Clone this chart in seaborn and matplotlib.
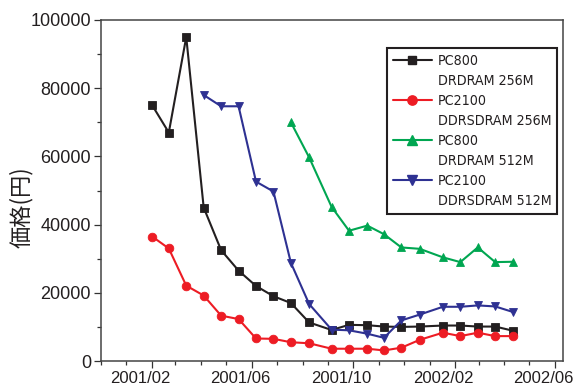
import matplotlib
matplotlib.use("Agg")
import matplotlib.pyplot as plt
import matplotlib.dates as mdates
import matplotlib.transforms as mtransforms
from matplotlib.lines import Line2D
from matplotlib.font_manager import FontProperties, fontManager
import seaborn as sns
import pandas as pd

# ---- data ----
dates_all = ["2001-02-01", "2001-02-21", "2001-03-14", "2001-04-04", "2001-04-25",
             "2001-05-16", "2001-06-06", "2001-06-27", "2001-07-18", "2001-08-09",
             "2001-09-05", "2001-09-26", "2001-10-18", "2001-11-07", "2001-11-28",
             "2001-12-20", "2002-01-17", "2002-02-07", "2002-02-28", "2002-03-21",
             "2002-04-11"]
pc800_256 = [75000, 67000, 95000, 45000, 32500, 26500, 22000, 19000, 17000, 11300,
             9100, 10600, 10500, 10100, 10000, 10100, 10400, 10400, 10100, 10100, 8900]
pc2100_256 = [36500, 33000, 22100, 19200, 13300, 12300, 6600, 6500, 5500, 5200,
              3600, 3600, 3600, 3100, 3900, 6200, 8300, 7300, 8300, 7300, 7300]
dates_pc800_512 = dates_all[8:]
pc800_512 = [70000, 59700, 45200, 38200, 39700, 37200, 33300, 32900, 30400, 29000,
             33300, 29000, 29100]
dates_pc2100_512 = dates_all[3:]
pc2100_512 = [78000, 74700, 74700, 52600, 49700, 28800, 16700, 9200, 9000, 8000,
              6800, 11900, 13600, 15900, 15900, 16300, 16000, 14400]

series_names = ["PC800\nDRDRAM 256M", "PC2100\nDDRSDRAM 256M",
                "PC800\nDRDRAM 512M", "PC2100\nDDRSDRAM 512M"]
yticks = [0, 20000, 40000, 60000, 80000, 100000]
xtick_dates = ["2001-02-01", "2001-06-01", "2001-10-01", "2002-02-01", "2002-06-01"]
xtick_labels = ["2001/02", "2001/06", "2001/10", "2002/02", "2002/06"]
ylabel = "価格(円)"

colors = ["#231f20", "#ed1c24", "#00a651", "#2e3192"]
markers = ["s", "o", "^", "v"]
msizes = [5.5, 6.2, 6.3, 6.3]

sns.set_theme(style="white")
plt.rcParams["font.family"] = ["Liberation Sans", "DejaVu Sans"]


def _is_regular(f):
    w = f.weight
    return (w in (400, "normal", "regular", "book")) and f.style == "normal"


# pick a narrow, regular-weight font for the legend if one is installed
narrow = None
for f in fontManager.ttflist:
    n = f.name.lower()
    is_narrow = ("narrow" in n or "condensed" in n or
                 f.stretch in ("condensed", "semi-condensed", "extra-condensed"))
    if is_narrow and _is_regular(f):
        narrow = f
        break
if narrow is not None:
    leg_fam = FontProperties(fname=narrow.fname)
else:
    leg_fam = FontProperties(family="Liberation Sans")

fig = plt.figure(figsize=(5.74, 3.91), dpi=100)
ax = fig.add_axes([100.7 / 574, 1 - 361 / 391, 462.6 / 574, 341 / 391])

frames = [
    pd.DataFrame({"date": pd.to_datetime(dates_all), "price": pc800_256}),
    pd.DataFrame({"date": pd.to_datetime(dates_all), "price": pc2100_256}),
    pd.DataFrame({"date": pd.to_datetime(dates_pc800_512), "price": pc800_512}),
    pd.DataFrame({"date": pd.to_datetime(dates_pc2100_512), "price": pc2100_512}),
]

for df, c, m, ms in zip(frames, colors, markers, msizes):
    sns.lineplot(data=df, x="date", y="price", ax=ax, color=c, marker=m,
                 markersize=ms, markeredgewidth=0.6, markeredgecolor=c,
                 linewidth=1.5, legend=False, sort=False)

ax.set_xlim(pd.Timestamp("2000-12-01"), pd.Timestamp("2002-06-11"))
ax.set_ylim(0, 100000)
ax.set_yticks(yticks)
ax.set_yticklabels([str(v) for v in yticks])
ax.set_xticks(pd.to_datetime(xtick_dates))
ax.set_xticklabels(xtick_labels)
ax.xaxis.set_minor_locator(mdates.MonthLocator())
ax.yaxis.set_minor_locator(matplotlib.ticker.MultipleLocator(10000))
ax.tick_params(which="major", direction="out", length=5, width=0.9,
               color="#333333", labelcolor="#231f20",
               bottom=True, left=True, pad=2)
ax.tick_params(axis="x", which="major", labelsize=12)
ax.tick_params(axis="y", which="major", labelsize=13)
ax.tick_params(which="minor", direction="out", length=3, width=0.9,
               color="#333333", bottom=True, left=True)
# x labels sit slightly left of their ticks in the reference
shift = mtransforms.ScaledTranslation(-12 / 100, 0, fig.dpi_scale_trans)
for lab in ax.get_xticklabels():
    lab.set_transform(lab.get_transform() + shift)
for s in ax.spines.values():
    s.set_color("#444444")
    s.set_linewidth(1.1)
ax.set_xlabel("")
ax.set_ylabel(ylabel, fontsize=16, family=["Noto Sans CJK JP", "DejaVu Sans"],
              color="#231f20")
ax.yaxis.set_label_coords(-0.146, 0.45)

# legend: split two-line labels so marker aligns with first line
handles, labels = [], []
for name, c, m, ms in zip(series_names, colors, markers, msizes):
    first, second = name.split("\n")
    handles.append(Line2D([], [], color=c, marker=m, markersize=ms + 0.5,
                          markeredgecolor=c, linewidth=1.5))
    labels.append(first)
    handles.append(Line2D([], [], linestyle="none", marker=None))
    labels.append(second)


def make_legend(size, lsp):
    prop = leg_fam.copy()
    prop.set_size(size)
    px = size * fig.dpi / 72
    lg = ax.legend(handles, labels, loc="upper left",
                   bbox_to_anchor=(0.618, 0.918),
                   borderaxespad=0, frameon=True, fancybox=False, framealpha=1,
                   edgecolor="#231f20", prop=prop,
                   handlelength=39 / px, handletextpad=6 / px,
                   borderpad=6 / px, labelspacing=lsp)
    lg.get_frame().set_linewidth(1.5)
    for t in lg.get_texts():
        t.set_color("#231f20")
    return lg


size, lsp = 11.0, 0.3
target_w, target_step = 113.0, 20.0
for _ in range(3):
    leg = make_legend(size, lsp)
    fig.canvas.draw()
    r = fig.canvas.get_renderer()
    bbs = [t.get_window_extent(r) for t in leg.get_texts()]
    w = max(b.width for b in bbs)
    step = bbs[0].y0 - bbs[1].y0
    if w > target_w * 1.02:
        size = size * target_w / w
    px = size * fig.dpi / 72
    lsp = max(0.0, lsp + (target_step - step) / px)
leg = make_legend(size, lsp)

fig.savefig("out.png", dpi=100, facecolor="white")
